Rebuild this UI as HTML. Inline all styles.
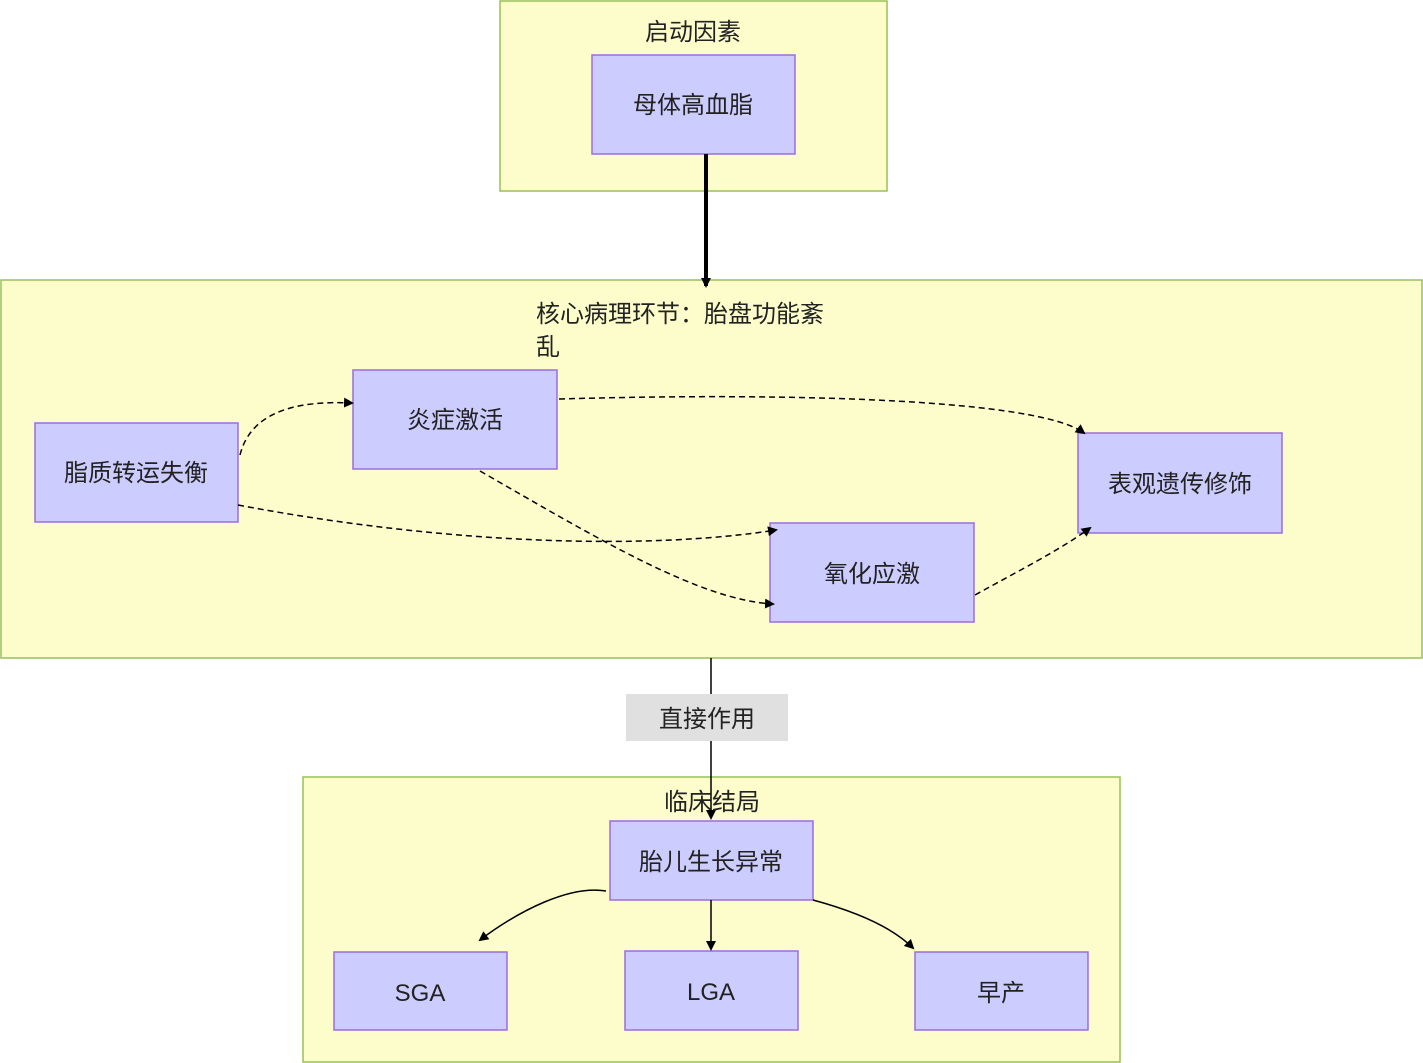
<!DOCTYPE html>
<html><head><meta charset="utf-8"><style>
html,body{margin:0;padding:0;background:#fff;}
svg{display:block;}
text{font-family:"Liberation Sans","Noto Sans CJK SC",sans-serif;fill:#222;}
</style></head><body>
<svg width="1423" height="1063" viewBox="0 0 1423 1063" xmlns="http://www.w3.org/2000/svg">
<defs>
<marker id="a" markerWidth="10" markerHeight="10" refX="8" refY="5" orient="auto" markerUnits="userSpaceOnUse"><path d="M0,0 L10,5 L0,10 z" fill="#000"/></marker>
</defs>
<g stroke="#99c155" stroke-width="1.5" fill="#fdfdcc">
<rect x="500" y="1" width="387" height="190"/>
<rect x="1" y="280" width="1421" height="378"/>
<rect x="303" y="777" width="817" height="285"/>
</g>
<text x="693" y="40" font-size="24" text-anchor="middle">启动因素</text>
<text x="536" y="322" font-size="24">核心病理环节：胎盘功能紊</text>
<text x="536" y="355" font-size="24">乱</text>
<g stroke="#9d6ddf" stroke-width="1.5" fill="#ccccff">
<rect x="592" y="55" width="203" height="99"/>
<rect x="35" y="423" width="203" height="99"/>
<rect x="353" y="370" width="204" height="99"/>
<rect x="1078" y="433" width="204" height="100"/>
<rect x="770" y="523" width="204" height="99"/>
<rect x="610" y="821" width="203" height="79"/>
<rect x="334" y="952" width="173" height="78"/>
<rect x="625" y="951" width="173" height="79"/>
<rect x="915" y="952" width="173" height="78"/>
</g>
<g font-size="24" text-anchor="middle">
<text x="693" y="113">母体高血脂</text>
<text x="136" y="481">脂质转运失衡</text>
<text x="455" y="428">炎症激活</text>
<text x="1180" y="492">表观遗传修饰</text>
<text x="872" y="582">氧化应激</text>
<text x="711" y="870">胎儿生长异常</text>
<text x="420" y="1001">SGA</text>
<text x="711" y="1000">LGA</text>
<text x="1001" y="1001">早产</text>
</g>
<line x1="706" y1="154" x2="706" y2="286" stroke="#000" stroke-width="4" marker-end="url(#a)"/>
<g fill="none" stroke="#000" stroke-width="1.5" stroke-dasharray="6,4">
<path d="M240,455 C250,415 290,400 352,403" marker-end="url(#a)"/>
<path d="M559,399 C800,392 1040,400 1084,433" marker-end="url(#a)"/>
<path d="M238,505 C450,545 650,550 776,530" marker-end="url(#a)"/>
<path d="M480,471 C600,540 700,600 773,604" marker-end="url(#a)"/>
<path d="M975,595 C1020,570 1060,550 1090,528" marker-end="url(#a)"/>
</g>
<line x1="711" y1="658" x2="711" y2="818" stroke="#000" stroke-width="1.5" marker-end="url(#a)"/>
<rect x="626" y="694" width="162" height="47" fill="#e0e0e0"/>
<text x="707" y="727" font-size="24" text-anchor="middle">直接作用</text>
<text x="712" y="810" font-size="24" text-anchor="middle">临床结局</text>
<g fill="none" stroke="#000" stroke-width="1.5">
<path d="M606,891 C570,885 520,910 480,940" marker-end="url(#a)"/>
<line x1="711" y1="900" x2="711" y2="949" marker-end="url(#a)"/>
<path d="M813,900 C850,910 890,925 913,948" marker-end="url(#a)"/>
</g>
</svg>
</body></html>
